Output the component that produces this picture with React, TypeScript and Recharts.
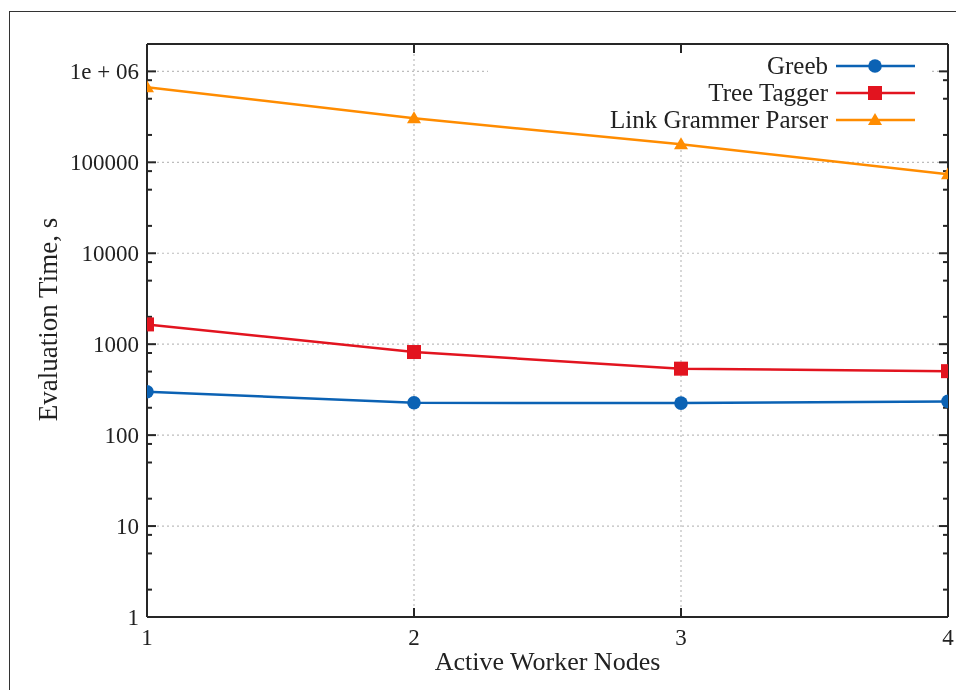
import { LineChart, Line, XAxis, YAxis, CartesianGrid, Legend } from "recharts"

const nodes = [1, 2, 3, 4]
const greeb = [300, 227, 225, 235]
const treeTagger = [1650, 820, 538, 505]
const linkParser = [670000, 305000, 158000, 74000]

const yMajorTicks = [1, 10, 100, 1000, 10000, 100000, 1000000]
const yMinorSteps = [2, 5, 8]
const yTickLabels = ["1", "10", "100", "1000", "10000", "100000", "1e + 06"]
const yTop = 2000000
const xTicks = [1, 2, 3, 4]
const xInnerTicks = [2, 3]

const series = [
  { key: "greeb", name: "Greeb", color: "#0b62b4", shape: "circle" },
  { key: "treeTagger", name: "Tree Tagger", color: "#e2141f", shape: "square" },
  { key: "linkParser", name: "Link Grammer Parser", color: "#ff8c00", shape: "triangle" },
]

const data = nodes.map((n, i) => ({
  nodes: n,
  greeb: greeb[i],
  treeTagger: treeTagger[i],
  linkParser: linkParser[i],
}))

const yMinorTicks = yMajorTicks.slice(0, -1).flatMap((d) => yMinorSteps.map((k) => k * d))

const FONT = '"Liberation Serif", "Times New Roman", serif'
const AXIS = "#262626"
const GRID = "#bdbdbd"
// legend box (chart coords) that hides the grid behind it
const LEG = { left: 480, top: 40, width: 444, height: 92 }

function Marker({ shape, cx, cy, color }: any) {
  if (cx == null || cy == null) return null
  if (shape === "circle") return <circle cx={cx} cy={cy} r={6.8} fill={color} />
  if (shape === "square") return <rect x={cx - 7} y={cy - 7} width={14} height={14} fill={color} />
  return <polygon points={`${cx},${cy - 7} ${cx - 7},${cy + 5} ${cx + 7},${cy + 5}`} fill={color} />
}

function LeftTick({ x, y, payload }: any) {
  const idx = yMajorTicks.indexOf(payload.value)
  if (idx < 0) return null
  return (
    <text x={x - 8} y={y} dy="0.35em" textAnchor="end" fontFamily={FONT} fontSize={23} fill="#222">
      {yTickLabels[idx]}
    </text>
  )
}

function BottomTick({ x, y, payload }: any) {
  return (
    <text x={x} y={y + 28} textAnchor="middle" fontFamily={FONT} fontSize={23} fill="#222">
      {payload.value}
    </text>
  )
}

const tickStroke = { stroke: AXIS, strokeWidth: 2 }

function majorH(p: any) {
  const { x1, x2, y1 } = p
  const inLegend = y1 > LEG.top && y1 < LEG.top + LEG.height
  return (
    <g key={`mh-${y1}`}>
      {inLegend ? (
        <>
          <line x1={x1} x2={LEG.left} y1={y1} y2={y1} stroke={GRID} strokeWidth={1.2} strokeDasharray="2 3" />
          <line x1={LEG.left + LEG.width} x2={x2} y1={y1} y2={y1} stroke={GRID} strokeWidth={1.2} strokeDasharray="2 3" />
        </>
      ) : (
        <line x1={x1} x2={x2} y1={y1} y2={y1} stroke={GRID} strokeWidth={1.2} strokeDasharray="2 3" />
      )}
      <line x1={x1} x2={x1 + 9} y1={y1} y2={y1} {...tickStroke} />
      <line x1={x2 - 9} x2={x2} y1={y1} y2={y1} {...tickStroke} />
    </g>
  )
}

function majorV(p: any) {
  const { x1, y1, y2 } = p
  const inLegend = x1 > LEG.left && x1 < LEG.left + LEG.width
  return (
    <g key={`mv-${x1}`}>
      <line
        x1={x1}
        x2={x1}
        y1={inLegend ? LEG.top + LEG.height : y1}
        y2={y2}
        stroke={GRID}
        strokeWidth={1.2}
        strokeDasharray="2 3"
      />
      <line x1={x1} x2={x1} y1={y1} y2={y1 + 9} {...tickStroke} />
      <line x1={x1} x2={x1} y1={y2 - 9} y2={y2} {...tickStroke} />
    </g>
  )
}

function minorH(p: any) {
  const { x1, x2, y1 } = p
  return (
    <g key={`nh-${y1}`}>
      <line x1={x1} x2={x1 + 5} y1={y1} y2={y1} {...tickStroke} />
      <line x1={x2 - 5} x2={x2} y1={y1} y2={y1} {...tickStroke} />
    </g>
  )
}

function frameH(p: any) {
  return <line key={`fh-${p.y1}`} x1={p.x1} x2={p.x2} y1={p.y1} y2={p.y1} stroke={AXIS} strokeWidth={2} />
}

function frameV(p: any) {
  return <line key={`fv-${p.x1}`} x1={p.x1} x2={p.x1} y1={p.y1} y2={p.y2} stroke={AXIS} strokeWidth={2} />
}

function LegendBox() {
  return (
    <svg width={LEG.width} height={LEG.height} style={{ display: "block" }}>
      {series.map((s, i) => {
        const y = 18 + i * 27
        return (
          <g key={s.key}>
            <text x={340} y={y} dy="0.33em" textAnchor="end" fontFamily={FONT} fontSize={25} fill="#222">
              {s.name}
            </text>
            <line x1={348} x2={427} y1={y} y2={y} stroke={s.color} strokeWidth={2.5} />
            <Marker shape={s.shape} cx={387} cy={y} color={s.color} />
          </g>
        )
      })}
    </svg>
  )
}

export default function App() {
  return (
    <div style={{ position: "fixed", left: 8, top: 8, width: 948, height: 682, overflow: "hidden" }}>
      <div
        style={{
          position: "absolute",
          left: 1,
          top: 3,
          width: 1000,
          height: 720,
          borderLeft: "1.5px solid #333",
          borderTop: "1.5px solid #333",
        }}
      />
      <div style={{ position: "absolute", left: 0, top: 0 }}>
        <LineChart width={948} height={682} data={data} margin={{ top: 36, right: 8, bottom: 13, left: 0 }}>
          <CartesianGrid
            horizontalValues={yMajorTicks}
            verticalValues={xInnerTicks}
            horizontal={majorH}
            vertical={majorV}
          />
          <CartesianGrid horizontalValues={yMinorTicks} horizontal={minorH} vertical={false} />
          <CartesianGrid horizontalValues={[yTop]} verticalValues={[4]} horizontal={frameH} vertical={frameV} />
          <XAxis
            dataKey="nodes"
            type="number"
            domain={[1, 4]}
            ticks={xTicks}
            interval={0}
            allowDataOverflow
            height={60}
            tickSize={0}
            tickMargin={0}
            tickLine={false}
            tick={<BottomTick />}
            axisLine={{ stroke: AXIS, strokeWidth: 2 }}
            label={{
              value: "Active Worker Nodes",
              position: "center",
              dy: 14,
              fontFamily: FONT,
              fontSize: 26,
              fill: "#222",
            }}
          />
          <YAxis
            scale="log"
            domain={[1, yTop]}
            allowDataOverflow
            ticks={yMajorTicks}
            interval={0}
            width={139}
            tickSize={0}
            tickMargin={0}
            tickLine={false}
            tick={<LeftTick />}
            axisLine={{ stroke: AXIS, strokeWidth: 2 }}
            label={{
              value: "Evaluation Time, s",
              angle: -90,
              position: "center",
              dx: -30,
              dy: -11,
              fontFamily: FONT,
              fontSize: 27,
              fill: "#222",
            }}
          />
          {series.map((s) => (
            <Line
              key={s.key}
              dataKey={s.key}
              name={s.name}
              stroke={s.color}
              strokeWidth={2.5}
              isAnimationActive={false}
              dot={(p: any) => <Marker key={`${s.key}-${p.index}`} shape={s.shape} cx={p.cx} cy={p.cy} color={s.color} />}
              activeDot={false}
            />
          ))}
          <Legend
            layout="vertical"
            align="center"
            verticalAlign="middle"
            content={() => <LegendBox />}
            wrapperStyle={{ left: LEG.left, top: LEG.top, width: LEG.width, height: LEG.height }}
          />
        </LineChart>
      </div>
    </div>
  )
}
